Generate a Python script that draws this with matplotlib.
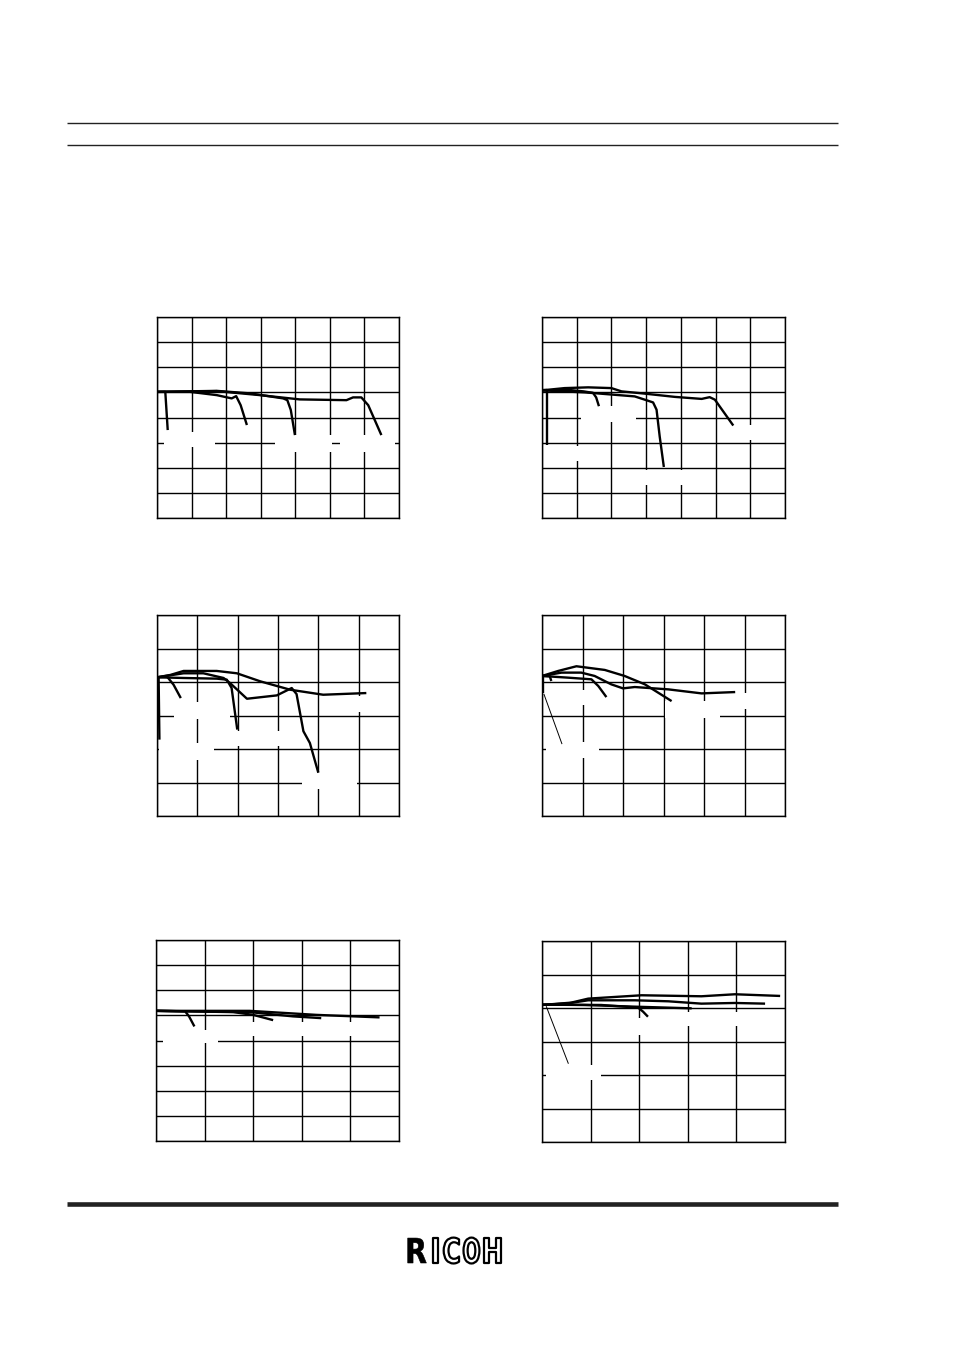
import numpy as np
import matplotlib
matplotlib.use("Agg")
import matplotlib.pyplot as plt
import matplotlib.patheffects as pe
from matplotlib.patches import Rectangle
from matplotlib.transforms import Affine2D
from matplotlib.colors import to_rgba

# ---- data (grid units) ----
# panel 1
p1a_x = [0, 0.24, 0.31];                                  p1a_y = [5.02, 5.02, 3.50]
p1b_x = [0, 0.96, 1.73, 2.16, 2.29, 2.42, 2.60];          p1b_y = [5.02, 5.02, 4.89, 4.76, 4.85, 4.49, 3.70]
p1c_x = [0, 1.73, 2.69, 3.65, 3.77, 3.87, 3.99];          p1c_y = [5.02, 5.06, 4.96, 4.76, 4.69, 4.30, 3.30]
p1d_x = [0, 1.73, 2.98, 4.13, 5.48, 5.67, 5.91, 6.11, 6.49]
p1d_y = [5.02, 5.05, 4.89, 4.72, 4.69, 4.80, 4.80, 4.49, 3.30]

# panel 2
p2a_x = [0, 0.14, 0.14];                                  p2a_y = [5.08, 5.08, 2.92]
p2b_x = [0, 0.75, 1.20, 1.47, 1.56, 1.64];                p2b_y = [5.08, 5.10, 5.04, 4.98, 4.80, 4.45]
p2c_x = [0, 0.65, 1.33, 2.00, 2.29, 2.96, 3.83, 4.60, 4.83, 4.98, 5.51]
p2c_y = [5.08, 5.17, 5.20, 5.17, 5.04, 4.95, 4.82, 4.74, 4.81, 4.71, 3.68]
p2d_x = [0, 1.23, 2.67, 2.96, 3.20, 3.30, 3.39, 3.51];    p2d_y = [5.08, 5.00, 4.84, 4.71, 4.60, 4.31, 3.25, 2.03]

# panel 3
p3a_x = [0, 0.04, 0.06];                                  p3a_y = [4.14, 4.14, 2.28]
p3b_x = [0, 0.25, 0.41, 0.59];                            p3b_y = [4.14, 4.16, 3.92, 3.52]
p3c_x = [0, 0.66, 1.48, 1.73, 1.85, 1.99];                p3c_y = [4.14, 4.12, 4.10, 4.07, 3.82, 2.58]
p3d_x = [0, 0.66, 1.15, 1.65, 1.81, 2.23, 2.97, 3.34, 3.46, 3.63, 3.79, 4.00]
p3d_y = [4.14, 4.26, 4.26, 4.12, 3.97, 3.50, 3.60, 3.82, 3.64, 2.53, 2.18, 1.29]
p3e_x = [0, 0.33, 0.66, 1.48, 1.98, 2.56, 3.30, 4.12, 5.19]
p3e_y = [4.14, 4.21, 4.33, 4.33, 4.26, 4.02, 3.77, 3.62, 3.67]

# panel 4
p4a_x = [0.02, 0.02];                                     p4a_y = [4.18, 3.68]
p4b_x = [0, 0.19, 0.23];                                  p4b_y = [4.18, 4.18, 4.03]
p4c_x = [0, 0.64, 1.22, 1.39, 1.59];                      p4c_y = [4.18, 4.13, 4.08, 3.88, 3.55]
p4d_x = [0, 0.48, 0.97, 1.30, 1.71, 2.00, 2.29, 3.12, 3.94, 4.77]
p4d_y = [4.18, 4.28, 4.28, 4.18, 3.93, 3.81, 3.85, 3.78, 3.66, 3.70]
p4e_x = [0, 0.40, 0.85, 1.55, 2.04, 2.54, 3.20];          p4e_y = [4.18, 4.33, 4.47, 4.36, 4.18, 3.93, 3.43]
p4_lead_x = [0.05, 0.49];                                 p4_lead_y = [3.63, 2.16]

# panel 5
p5a_x = [0, 0.60, 0.68, 0.79];                            p5a_y = [5.18, 5.16, 4.96, 4.56]
p5b_x = [0, 1.59, 2.00, 2.41];                            p5b_y = [5.18, 5.13, 5.02, 4.81]
p5c_x = [0, 1.93, 2.82, 3.40];                            p5c_y = [5.18, 5.13, 4.96, 4.89]
p5d_x = [0, 1.93, 3.30, 4.60];                            p5d_y = [5.18, 5.18, 5.02, 4.92]

# panel 6
p6a_x = [0, 1.22, 1.98, 2.08, 2.18];                      p6a_y = [4.10, 4.09, 4.01, 3.89, 3.74]
p6b_x = [0, 0.88, 1.91, 3.08];                            p6b_y = [4.10, 4.09, 4.04, 3.99]
p6c_x = [0, 0.54, 0.95, 1.91, 2.60, 3.28, 3.97, 4.59];    p6c_y = [4.09, 4.14, 4.23, 4.23, 4.20, 4.13, 4.15, 4.13]
p6d_x = [0, 0.60, 0.95, 2.05, 3.28, 3.97, 4.90];          p6d_y = [4.09, 4.16, 4.28, 4.38, 4.35, 4.41, 4.36]
p6_lead_x = [0.09, 0.54];                                 p6_lead_y = [4.04, 2.35]

logo_letters = ["R", "I", "C", "O", "H"]

panels = [
    dict(box=(157, 317, 242, 201), cols=7, rows=8,
         curves=[(p1a_x, p1a_y), (p1b_x, p1b_y), (p1c_x, p1c_y), (p1d_x, p1d_y)],
         leads=[],
         masks=[(0.19, 2.84, 1.49, 0.60), (3.41, 2.64, 1.64, 0.66), (5.29, 2.64, 1.58, 0.66)]),
    dict(box=(542, 317, 243, 201), cols=7, rows=8,
         curves=[(p2a_x, p2a_y), (p2b_x, p2b_y), (p2c_x, p2c_y), (p2d_x, p2d_y)],
         leads=[],
         masks=[(1.11, 3.83, 1.61, 0.62), (0.25, 2.25, 1.5, 0.63),
                (2.7, 1.3, 1.6, 0.60), (5.6, 3.1, 1.3, 0.60)]),
    dict(box=(157, 615, 242, 201), cols=6, rows=6,
         curves=[(p3a_x, p3a_y), (p3b_x, p3b_y), (p3c_x, p3c_y), (p3d_x, p3d_y), (p3e_x, p3e_y)],
         leads=[],
         masks=[(0.41, 2.9, 1.40, 0.50), (0.06, 1.68, 1.36, 0.50), (3.59, 0.8, 1.36, 0.50),
                (1.9, 2.1, 1.35, 0.44), (4.6, 3.1, 1.2, 0.47)]),
    dict(box=(542, 615, 243, 201), cols=6, rows=6,
         curves=[(p4a_x, p4a_y), (p4b_x, p4b_y), (p4c_x, p4c_y), (p4d_x, p4d_y), (p4e_x, p4e_y)],
         leads=[(p4_lead_x, p4_lead_y)],
         masks=[(3.03, 2.92, 1.36, 0.50), (0.6, 3.3, 0.9, 0.45), (4.6, 3.18, 0.9, 0.50),
                (0.11, 1.74, 1.29, 0.46)]),
    dict(box=(156, 940, 243, 201), cols=5, rows=8,
         curves=[(p5a_x, p5a_y), (p5b_x, p5b_y), (p5c_x, p5c_y), (p5d_x, p5d_y)],
         leads=[],
         masks=[(0.15, 3.9, 1.13, 0.53), (1.5, 4.17, 3.1, 0.55)]),
    dict(box=(542, 941, 243, 201), cols=5, rows=6,
         curves=[(p6a_x, p6a_y), (p6b_x, p6b_y), (p6c_x, p6c_y), (p6d_x, p6d_y)],
         leads=[(p6_lead_x, p6_lead_y)],
         masks=[(0.09, 1.85, 1.13, 0.45), (1.8, 3.19, 0.5, 0.50), (2.7, 3.47, 1.6, 0.42)]),
]


class Squeeze(pe.AbstractPathEffect):
    """Draw the glyph stretched about its baseline anchor (keeps it a real text)."""

    def __init__(self, cx, cy, sx, sy, face, edge, lw):
        super().__init__()
        self.t = Affine2D().translate(-cx, -cy).scale(sx, sy).translate(cx, cy)
        self.face = to_rgba(face)
        self.edge = edge
        self.lw = lw

    def draw_path(self, renderer, gc, tpath, affine, rgbFace=None):
        gc0 = renderer.new_gc()
        gc0.copy_properties(gc)
        gc0.set_foreground(self.edge)
        gc0.set_linewidth(self.lw)
        renderer.draw_path(gc0, tpath, affine + self.t, self.face)
        gc0.restore()


W, H = 954, 1351
fig = plt.figure(figsize=(W / 100, H / 100), dpi=100)
fig.patch.set_facecolor("white")

for p in panels:
    x0, y0, w, h = p["box"]
    ax = fig.add_axes([x0 / W, 1 - (y0 + h) / H, w / W, h / H])
    ax.set_xlim(0, p["cols"])
    ax.set_ylim(0, p["rows"])
    ax.set_xticks(np.arange(p["cols"] + 1))
    ax.set_yticks(np.arange(p["rows"] + 1))
    ax.tick_params(length=0, labelbottom=False, labelleft=False)
    ax.grid(True, color="black", linewidth=1.0)
    ax.set_axisbelow(True)
    for s in ax.spines.values():
        s.set_linewidth(1.0)
    for mx, my, mw, mh in p["masks"]:
        ax.add_patch(Rectangle((mx, my), mw, mh, facecolor="white", edgecolor="none", zorder=1))
    for cx, cy in p["curves"]:
        ax.plot(cx, cy, color="black", linewidth=1.7, solid_joinstyle="round",
                solid_capstyle="butt", zorder=3)
    for lx, ly in p["leads"]:
        ax.plot(lx, ly, color="black", linewidth=0.7, zorder=3)

# page rules
fig.add_artist(plt.Line2D([67 / W, 838 / W], [1 - 123 / H, 1 - 123 / H], color="#222222",
                          linewidth=1.0, solid_capstyle="butt"))
fig.add_artist(plt.Line2D([67 / W, 838 / W], [1 - 145 / H, 1 - 145 / H], color="#222222",
                          linewidth=1.0, solid_capstyle="butt"))
fig.add_artist(plt.Line2D([67 / W, 838 / W], [1 - 1204 / H, 1 - 1204 / H], color="#222222",
                          linewidth=3.3, solid_capstyle="butt"))

# logo: tall condensed letters, R solid, the rest outlined
logo_cx = [416, 435.5, 451.5, 471.5, 492.5]
logo_sx = [1.2, 1.3, 1.05, 0.9, 1.05]
base = 1263
for ch, cx, sx in zip(logo_letters, logo_cx, logo_sx):
    if ch == "R":
        eff = Squeeze(cx, H - base, sx, 1.45, "black", "black", 0.4)
    else:
        eff = Squeeze(cx, H - base, sx, 1.45, "white", "black", 1.6)
    fig.text(cx / W, 1 - base / H, ch, ha="center", va="baseline", fontsize=17,
             fontweight="bold", family="DejaVu Sans", color="black", path_effects=[eff])

fig.savefig("out.png", dpi=100, facecolor="white")
